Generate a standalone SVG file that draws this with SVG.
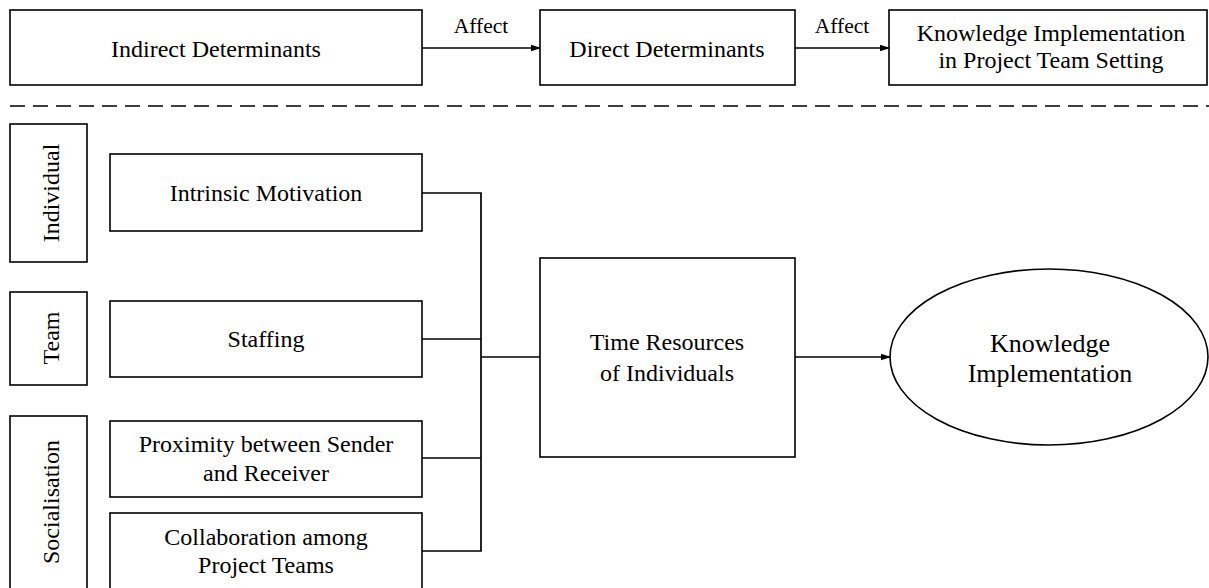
<svg xmlns="http://www.w3.org/2000/svg" width="1209" height="588" viewBox="0 0 1209 588">
  <defs>
    <marker id="arrow" markerWidth="10" markerHeight="8" refX="9" refY="4" orient="auto" markerUnits="userSpaceOnUse">
      <path d="M0,0.8 L10,4 L0,7.2 Z" fill="#000"/>
    </marker>
    <style>
      .box { fill: #fff; stroke: #000; stroke-width: 1.6; }
      .t { font-size: 24px; fill: #000; text-anchor: middle; }
      .lbl { font-size: 21.5px; fill: #000; text-anchor: middle; }
      .big { font-size: 26px; }
      .wire { fill: none; stroke: #000; stroke-width: 1.7; }
      .dash { stroke: #000; stroke-width: 1.6; stroke-dasharray: 15 8; }
    </style>
  </defs>

  <rect width="1209" height="588" fill="#fff"/>

  <g font-family="'Liberation Serif', 'Times New Roman', serif">
  <!-- header row -->
  <g id="indirect">
    <rect class="box" x="10" y="10" width="412" height="75"/>
    <text class="t" x="216" y="57">Indirect Determinants</text>
  </g>
  <g id="direct">
    <rect class="box" x="540" y="10" width="255" height="75"/>
    <text class="t" x="667" y="57">Direct Determinants</text>
  </g>
  <g id="implementation-setting">
    <rect class="box" x="889" y="10" width="318" height="75"/>
    <text class="t" x="1051" y="41">Knowledge Implementation</text>
    <text class="t" x="1051" y="68">in Project Team Setting</text>
  </g>

  <line class="dash" x1="10" y1="106" x2="1209" y2="106"/>

  <!-- level labels -->
  <g id="level-individual">
    <rect class="box" x="10" y="124" width="77" height="138"/>
    <text class="t" transform="translate(59,193) rotate(-90)">Individual</text>
  </g>
  <g id="level-team">
    <rect class="box" x="10" y="292" width="77" height="93"/>
    <text class="t" transform="translate(59,338) rotate(-90)">Team</text>
  </g>
  <g id="level-socialisation">
    <rect class="box" x="10" y="416" width="77" height="182"/>
    <text class="t" transform="translate(59,502) rotate(-90)">Socialisation</text>
  </g>

  <!-- determinants -->
  <g id="intrinsic-motivation">
    <rect class="box" x="110" y="154" width="312" height="77"/>
    <text class="t" x="266" y="201">Intrinsic Motivation</text>
  </g>
  <g id="staffing">
    <rect class="box" x="110" y="301" width="312" height="76"/>
    <text class="t" x="266" y="347">Staffing</text>
  </g>
  <g id="proximity">
    <rect class="box" x="110" y="421" width="312" height="76"/>
    <text class="t" x="266" y="452">Proximity between Sender</text>
    <text class="t" x="266" y="481">and Receiver</text>
  </g>
  <g id="collaboration">
    <rect class="box" x="110" y="513" width="312" height="85"/>
    <text class="t" x="266" y="545">Collaboration among</text>
    <text class="t" x="266" y="573">Project Teams</text>
  </g>

  <g id="time-resources">
    <rect class="box" x="540" y="258" width="255" height="199"/>
    <text class="t" x="667" y="350">Time Resources</text>
    <text class="t" x="667" y="381">of Individuals</text>
  </g>

  <g id="knowledge-implementation">
    <ellipse class="box" cx="1049" cy="357" rx="159" ry="88"/>
    <text class="t big" x="1050" y="352">Knowledge</text>
    <text class="t big" x="1050" y="382">Implementation</text>
  </g>

  <!-- connectors -->
  <g id="connectors">
    <line class="wire" x1="422" y1="48" x2="540" y2="48" marker-end="url(#arrow)"/>
    <text class="lbl" x="481" y="33">Affect</text>
    <line class="wire" x1="795" y1="48" x2="889" y2="48" marker-end="url(#arrow)"/>
    <text class="lbl" x="842" y="33">Affect</text>

    <polyline class="wire" points="422,193 481,193 481,551 422,551"/>
    <line class="wire" x1="422" y1="339" x2="481" y2="339"/>
    <line class="wire" x1="422" y1="458" x2="481" y2="458"/>
    <line class="wire" x1="481" y1="357" x2="540" y2="357"/>
    <line class="wire" x1="795" y1="357" x2="890" y2="357" marker-end="url(#arrow)"/>
  </g>
  </g>
</svg>
